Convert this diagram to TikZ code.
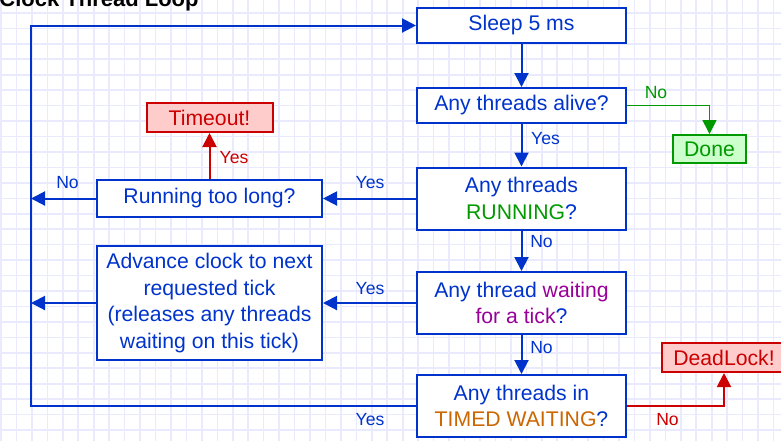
\documentclass[tikz,border=0pt]{standalone}
\usepackage{fontspec}
\setmainfont{Liberation Sans}
\usetikzlibrary{arrows.meta}
\definecolor{flowblue}{RGB}{0,51,204}
\definecolor{flowgreen}{RGB}{0,153,0}
\definecolor{donefill}{RGB}{204,255,204}
\definecolor{flowred}{RGB}{204,0,0}
\definecolor{alertfill}{RGB}{255,204,204}
\definecolor{tickpurple}{RGB}{153,0,153}
\definecolor{timedorange}{RGB}{204,102,0}
\definecolor{gridlav}{RGB}{234,234,255}
\newcommand{\boxfont}{\fontsize{10.6}{13.2}\selectfont}
\newcommand{\lblfont}{\fontsize{8.8}{10}\selectfont}
\tikzset{
  gridline/.style={draw=gridlav, line width=0.8pt},
  flowbox/.style={draw=flowblue, line width=1pt, fill=white, text=flowblue,
    inner sep=0pt, align=center, font=\boxfont},
  donebox/.style={flowbox, draw=flowgreen, fill=donefill, text=flowgreen},
  alertbox/.style={flowbox, draw=flowred, fill=alertfill, text=flowred},
  flowarrow/.style={draw=flowblue, line width=1pt, -{Triangle[length=7pt,width=7pt]}},
  greenarrow/.style={flowarrow, draw=flowgreen, line width=0.8pt},
  redarrow/.style={flowarrow, draw=flowred},
  lbl/.style={inner sep=0pt, font=\lblfont, text=flowblue},
  titletext/.style={inner sep=0pt, font=\fontsize{11}{13}\selectfont\bfseries}
}
\begin{document}
\begin{tikzpicture}[x=0.5pt,y=-0.5pt]
\useasboundingbox (0,0) rectangle (781,441);
\clip (0,0) rectangle (781,441);
\fill[white] (0,0) rectangle (781,441);
\foreach \gx in {1,16.45,...,781} \draw[gridline] (\gx,0) -- (\gx,441);
\foreach \gy in {-2.55,12.9,...,441} \draw[gridline] (0,\gy) -- (781,\gy);
\node[titletext, anchor=base west] (title) at (-1,6.5) {Clock Thread Loop};
\node[flowbox, minimum width=104.5pt, minimum height=17.5pt] (sleep) at (521.5,25.5) {Sleep 5 ms};
\node[flowbox, minimum width=104.5pt, minimum height=17.5pt] (alive) at (521.5,105.5) {Any threads alive?};
\node[flowbox, minimum width=104.5pt, minimum height=31pt] (running) at (521.5,198.5) {Any threads\\\textcolor{flowgreen}{RUNNING}?};
\node[flowbox, minimum width=104.5pt, minimum height=31pt] (waiting) at (521.5,303) {Any thread \textcolor{tickpurple}{waiting}\\\textcolor{tickpurple}{for a tick}?};
\node[flowbox, minimum width=104.5pt, minimum height=31pt] (timed) at (521.5,406) {Any threads in\\\textcolor{timedorange}{TIMED WAITING}?};
\node[flowbox, minimum width=112.5pt, minimum height=18.5pt] (toolong) at (209.5,198.5) {Running too long?};
\node[flowbox, minimum width=112.5pt, minimum height=57pt] (advance) at (209.5,303) {Advance clock to next\\requested tick\\(releases any threads\\waiting on this tick)};
\node[alertbox, minimum width=63pt, minimum height=14.5pt] (timeout) at (209.5,117.5) {Timeout!};
\node[donebox, minimum width=36.5pt, minimum height=14pt] (done) at (709.5,149) {Done};
\node[alertbox, minimum width=62pt, minimum height=14.5pt] (deadlock) at (724,357.5) {DeadLock!};
\coordinate (loopx) at (31,0);
\draw[flowarrow] (sleep) -- (alive);
\draw[flowarrow] (alive) -- (running);
\draw[flowarrow] (running) -- (waiting);
\draw[flowarrow] (waiting) -- (timed);
\draw[greenarrow] (alive.east) -| (done.north);
\draw[redarrow] (timed.east) -| (deadlock.south);
\draw[flowarrow] (running) -- (toolong);
\draw[flowarrow] (toolong.west) -- (toolong.west -| loopx);
\draw[redarrow] (toolong) -- (timeout);
\draw[flowarrow] (waiting) -- (advance);
\draw[flowarrow] (advance.west) -- (advance.west -| loopx);
\draw[flowarrow] (timed.west) -| (loopx |- sleep.west) -- (sleep.west);
\node[lbl, text=flowgreen] (noalive) at (656,92.5) {No};
\node[lbl] (yesalive) at (545.5,139) {Yes};
\node[lbl] (yesrunning) at (370,182.5) {Yes};
\node[lbl] (nolong) at (67.5,183) {No};
\node[lbl, text=flowred] (yeslong) at (234,158) {Yes};
\node[lbl] (norunning) at (541.5,242) {No};
\node[lbl] (yeswaiting) at (370,288.5) {Yes};
\node[lbl] (nowaiting) at (541.5,348) {No};
\node[lbl] (yestimed) at (370,420) {Yes};
\node[lbl, text=flowred] (notimed) at (667.5,420) {No};
\end{tikzpicture}
\end{document}
